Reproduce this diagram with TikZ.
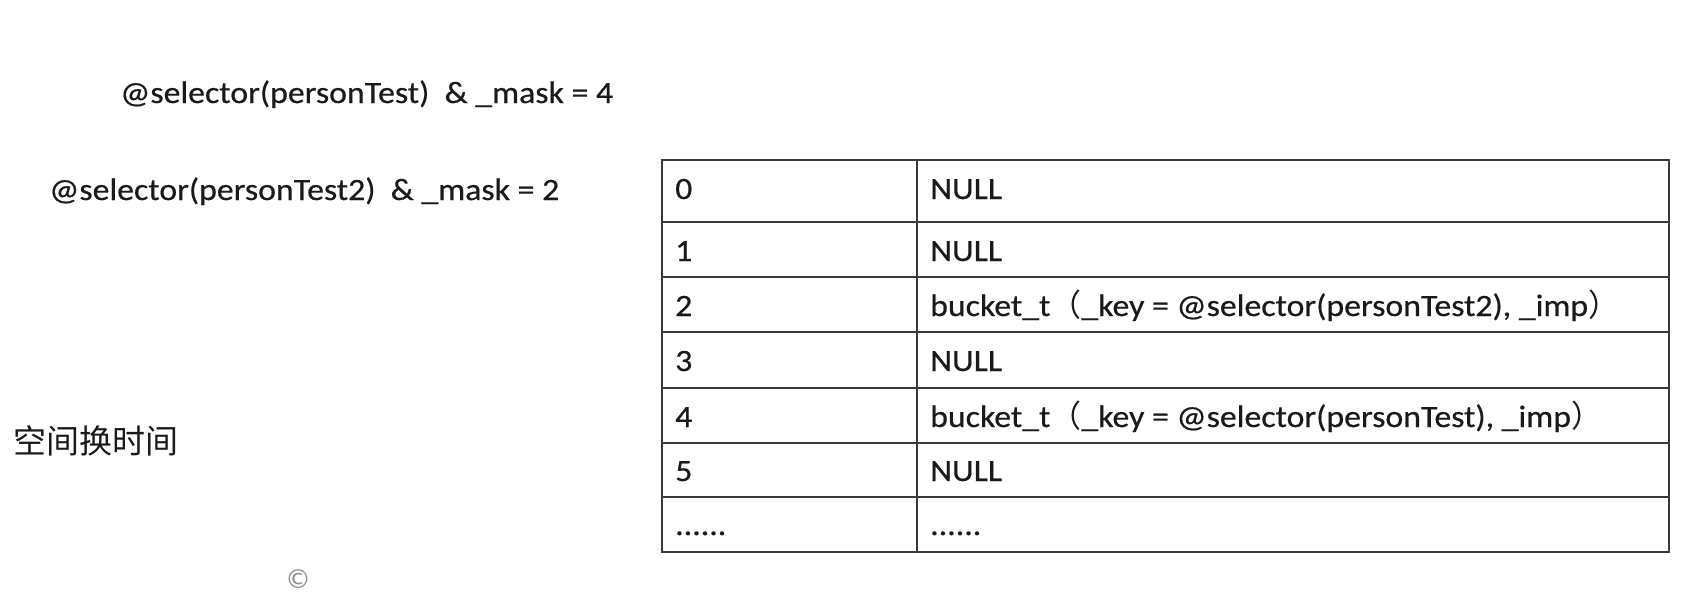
\documentclass[tikz,border=0pt]{standalone}
\usepackage{fontspec}
\setmainfont{Carlito}[FakeStretch=1.09,FakeBold=0.5]
\newfontfamily\cjk{Noto Sans CJK SC}
\newfontfamily\dejavu{DejaVu Sans}
\definecolor{txt}{HTML}{1A1A1A}
\definecolor{grid}{HTML}{3A3A3A}
\begin{document}
\begin{tikzpicture}[x=1pt,y=-1pt,
  lbl/.style={anchor=base west,inner sep=0pt,text=txt,font=\fontsize{31}{31}\selectfont},
  gridline/.style={draw=grid,line width=2pt}]
\useasboundingbox[fill=white] (0,0) rectangle (1706,592);
% top texts
\node[lbl] (t1) at (120,103) {@selector(personTest)\ \ \& \_mask = 4};
\node[lbl] (t2) at (49,200) {@selector(personTest2)\ \ \& \_mask = 2};
\node[anchor=base west,inner sep=0pt,text=txt,font=\cjk\fontsize{33}{33}\selectfont] (t3) at (13,453) {空间换时间};
\node[anchor=center,inner sep=0pt,text=black!45,font=\dejavu\fontsize{26}{26}\selectfont] (cr) at (298,579) {©};
% table grid
\draw[gridline] (662,160) rectangle (1669,552);
\foreach \y in {222,277,332,388,443,497} \draw[gridline] (662,\y) -- (1669,\y);
\draw[gridline] (917,160) -- (917,552);
% table text
\node[lbl] (k0) at (675,199) {0};
\node[lbl] (v0) at (930,199) {NULL};
\node[lbl] (k1) at (675,261) {1};
\node[lbl] (v1) at (930,261) {NULL};
\node[lbl] (k2) at (675,316) {2};
\node[lbl] (v2) at (930,316) {bucket\_t{\cjk （}\_key = @selector(personTest2), \_imp{\cjk ）}};
\node[lbl] (k3) at (675,371) {3};
\node[lbl] (v3) at (930,371) {NULL};
\node[lbl] (k4) at (675,427) {4};
\node[lbl] (v4) at (930,427) {bucket\_t{\cjk （}\_key = @selector(personTest), \_imp{\cjk ）}};
\node[lbl] (k5) at (675,481) {5};
\node[lbl] (v5) at (930,481) {NULL};
\node[lbl] (k6) at (675,535) {......};
\node[lbl] (v6) at (930,535) {......};
\end{tikzpicture}
\end{document}
